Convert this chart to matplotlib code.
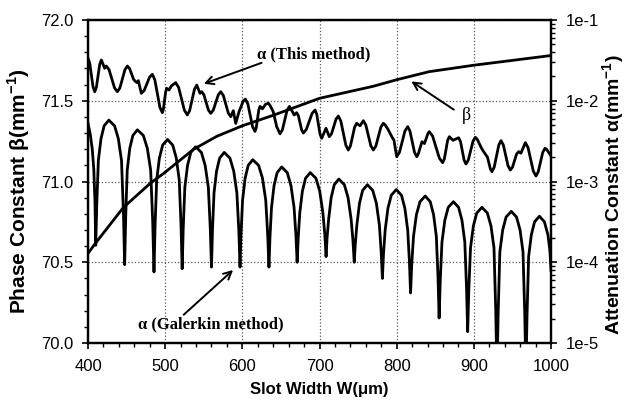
import numpy as np
import matplotlib
matplotlib.use("Agg")
import matplotlib.pyplot as plt
from matplotlib.ticker import MultipleLocator, FormatStrFormatter, LogLocator, NullFormatter

plt.rcParams['font.family'] = ['Liberation Sans', 'DejaVu Sans']
plt.rcParams['mathtext.fontset'] = 'custom'
plt.rcParams['mathtext.rm'] = 'Liberation Sans'
plt.rcParams['mathtext.bf'] = 'Liberation Sans:bold'

# phase constant beta (left axis, mm^-1)
beta_w = [400, 410, 446, 481, 498, 537, 567, 600, 640, 700, 770, 800, 842, 900, 1000]
beta_val = [70.555, 70.62, 70.84, 70.99, 71.05, 71.2, 71.28, 71.345, 71.41, 71.515,
            71.59, 71.63, 71.68, 71.72, 71.78]

# attenuation, this method (log10 of alpha)
this_w = [400, 402.2, 406.5, 408.7, 410.9, 415.1, 417.3, 421.6, 423.7, 427.3, 434.4, 438,
          441.3, 447.8, 451, 453.7, 459.1, 461.8, 463.9, 465.2, 469.1, 472.7, 479.8, 483.4,
          486.6, 493.1, 496.3, 497.7, 500.6, 502, 505, 508, 513.6, 517.4, 524.9, 528.7,
          531.7, 537.9, 540.9, 545.1, 547.3, 550.2, 556.1, 559, 562.3, 568.8, 572, 575.3,
          581.8, 585, 588.3, 591.4, 595.7, 601.3, 604, 607.1, 613.3, 616.4, 618, 621.3,
          622.9, 626, 630, 633.7, 636, 640, 644.5, 648.8, 651.9, 657.9, 661, 667.3, 670.4,
          672.6, 676.9, 679, 682.8, 690.4, 694.2, 696.4, 700.7, 702.8, 708.4, 712.7, 715.6,
          721.5, 724.4, 727.6, 734.1, 737.3, 740, 745.5, 748.2, 752.5, 756.8, 760, 766.5,
          769.7, 773, 779.5, 782.7, 785.5, 788.5, 794, 796.5, 800, 803.6, 810.7, 814.3,
          817.2, 823.1, 826, 827.7, 832.8, 836, 840.7, 842.3, 846.6, 855.3, 859.6, 861.8,
          866, 868.2, 873, 880.3, 882.7, 887.4, 889.8, 892.8, 898.9, 901.9, 904.4, 909.5,
          912, 915.7, 917.7, 921.5, 923.5, 926.4, 932.3, 935.2, 938.2, 944.3, 947.3, 950,
          955.4, 958.1, 961, 966.7, 970.2, 977.1, 980.5, 983.4, 989.3, 992.2, 994.2, 1000]
this_log = [-1.474, -1.534, -1.828, -1.888, -1.831, -1.552, -1.495, -1.598, -1.570, -1.616,
            -1.842, -1.888, -1.842, -1.616, -1.570, -1.598, -1.736, -1.764, -1.776, -1.751,
            -1.908, -1.874, -1.707, -1.673, -1.742, -2.079, -2.148, -2.104, -1.890, -1.846,
            -1.867, -1.817, -1.776, -1.834, -2.118, -2.176, -2.122, -1.859, -1.805, -1.908,
            -1.888, -1.927, -2.117, -2.156, -2.117, -1.927, -1.888, -1.933, -2.152, -2.197,
            -2.123, -2.28, -2.135, -2.00, -1.98, -2.038, -2.322, -2.38, -2.335, -2.115,
            -2.07, -2.10, -2.045, -2.03, -2.06, -2.135, -2.32, -2.41, -2.36, -2.12,
            -2.07, -2.176, -2.148, -2.185, -2.363, -2.40, -2.358, -2.157, -2.115, -2.166,
            -2.414, -2.465, -2.341, -2.445, -2.408, -2.226, -2.189, -2.250, -2.549, -2.61,
            -2.562, -2.327, -2.279, -2.31, -2.247, -2.300, -2.557, -2.61, -2.562, -2.327,
            -2.279, -2.304, -2.35, -2.45, -2.49, -2.693, -2.639, -2.375, -2.321, -2.375,
            -2.639, -2.693, -2.666, -2.507, -2.53, -2.40, -2.383, -2.439, -2.711, -2.767,
            -2.72, -2.492, -2.445, -2.49, -2.458, -2.505, -2.736, -2.783, -2.735, -2.501,
            -2.453, -2.477, -2.58, -2.62, -2.672, -2.70, -2.848, -2.878, -2.822, -2.55,
            -2.494, -2.547, -2.805, -2.858, -2.825, -2.66, -2.63, -2.65, -2.519, -2.579,
            -2.872, -2.932, -2.882, -2.639, -2.589, -2.60, -2.684]

# attenuation, Galerkin method (log10 of alpha)
gal_w = [400, 403, 405.5, 407.5, 409, 410,
         411.4, 413.4, 416.8, 420.9, 427, 434.4, 439.3, 443.4, 445.9, 447.5,
         448.8, 450.8, 454.1, 458.1, 464, 471.7, 476.9, 481.2, 483.8, 485.5,
         486.9, 489, 492.5, 496.7, 503, 509.8, 514.4, 518.2, 520.5, 522,
         523.4, 525.5, 529, 533.2, 539.5, 546.9, 551.8, 555.9, 558.4, 560,
         561.3, 563.3, 566.6, 570.6, 576.5, 583.9, 588.8, 592.9, 595.4, 597,
         598.3, 600.3, 603.6, 607.6, 613.5, 621.1, 626.1, 630.3, 632.8, 634.5,
         635.8, 637.8, 641.1, 645.1, 651, 658.2, 663, 667, 669.4, 671,
         672.4, 674.4, 677.8, 681.9, 688, 695.4, 700.3, 704.4, 706.9, 708.5,
         709.8, 711.8, 715.1, 719.1, 725, 732.2, 737, 741, 743.4, 745,
         746.4, 748.4, 751.8, 755.9, 762, 769, 773.7, 777.6, 779.9, 781.5,
         782.9, 785.1, 788.7, 793, 799.5, 806.2, 810.6, 814.3, 816.5, 818,
         819.5, 821.8, 825.6, 830.2, 837, 843.5, 847.8, 851.4, 853.6, 855,
         856.5, 858.7, 862.4, 866.8, 873.5, 880.2, 884.6, 888.3, 890.5, 892,
         893.5, 895.7, 899.4, 903.8, 910.5, 917.5, 922.2, 926.1, 928.4, 930,
         931.5, 933.7, 937.4, 941.8, 948.5, 955.3, 959.9, 963.7, 966, 967.5,
         968.9, 971, 974.5, 978.7, 985, 991.5, 996, 998.5, 1000]
gal_log = [-2.28, -2.42, -2.60, -2.85, -3.25, -3.79,
           -3.27, -2.74, -2.47, -2.31, -2.24, -2.31, -2.47, -2.74, -3.39, -4.03,
           -3.45, -2.86, -2.59, -2.43, -2.36, -2.43, -2.59, -2.86, -3.49, -4.12,
           -3.55, -2.98, -2.71, -2.55, -2.48, -2.55, -2.71, -2.98, -3.53, -4.08,
           -3.58, -3.07, -2.80, -2.64, -2.57, -2.64, -2.80, -3.07, -3.57, -4.06,
           -3.60, -3.14, -2.87, -2.71, -2.64, -2.71, -2.87, -3.14, -3.60, -4.06,
           -3.65, -3.23, -2.96, -2.80, -2.73, -2.80, -2.96, -3.23, -3.65, -4.06,
           -3.69, -3.32, -3.05, -2.89, -2.82, -2.89, -3.05, -3.32, -3.66, -4.00,
           -3.70, -3.39, -3.12, -2.96, -2.89, -2.96, -3.12, -3.39, -3.66, -3.93,
           -3.70, -3.47, -3.20, -3.04, -2.97, -3.04, -3.20, -3.47, -3.74, -4.00,
           -3.77, -3.54, -3.27, -3.11, -3.04, -3.11, -3.27, -3.54, -3.87, -4.20,
           -3.90, -3.60, -3.33, -3.17, -3.10, -3.17, -3.33, -3.60, -3.99, -4.38,
           -4.03, -3.68, -3.41, -3.25, -3.18, -3.25, -3.41, -3.68, -4.19, -4.69,
           -4.22, -3.75, -3.48, -3.32, -3.25, -3.32, -3.48, -3.75, -4.31, -4.86,
           -4.34, -3.82, -3.55, -3.39, -3.32, -3.39, -3.55, -3.82, -4.61, -5.4,
           -4.64, -3.87, -3.60, -3.44, -3.37, -3.44, -3.60, -3.87, -4.64, -5.4,
           -4.67, -3.93, -3.66, -3.50, -3.43, -3.50, -3.66, -3.85, -4.10]

fig = plt.figure(figsize=(6.26, 4), dpi=100)
ax = fig.add_axes([0.1406, 0.1425, 0.7396, 0.8075])
ax2 = ax.twinx()

ax.plot(beta_w, beta_val, color='black', lw=2, solid_joinstyle='round')
ax2.plot(this_w, 10 ** np.array(this_log), color='black', lw=2, solid_joinstyle='round')
ax2.plot(gal_w, 10 ** np.array(gal_log), color='black', lw=2, solid_joinstyle='round')

ax.set_xlim(400, 1000)
ax.set_ylim(70.0, 72.0)
ax2.set_yscale('log')
ax2.set_ylim(1e-5, 1e-1)

ax.xaxis.set_major_locator(MultipleLocator(100))
ax.xaxis.set_minor_locator(MultipleLocator(20))
ax.yaxis.set_major_locator(MultipleLocator(0.5))
ax.yaxis.set_minor_locator(MultipleLocator(0.1))
ax.yaxis.set_major_formatter(FormatStrFormatter('%.1f'))
ax2.yaxis.set_minor_locator(LogLocator(base=10, subs=np.arange(2, 10), numticks=10))
ax2.yaxis.set_minor_formatter(NullFormatter())
ax2.set_yticks([1e-5, 1e-4, 1e-3, 1e-2, 1e-1])
ax2.set_yticklabels(['1e-5', '1e-4', '1e-3', '1e-2', '1e-1'])

# ticks point outward
ax.tick_params(axis='both', which='both', direction='out', top=False, right=False, labelsize=12)
ax.tick_params(axis='both', which='major', length=4.5, width=1.2)
ax.tick_params(axis='both', which='minor', length=3, width=1)
ax.tick_params(axis='x', pad=7)
ax.tick_params(axis='y', pad=6)
ax2.tick_params(axis='y', which='both', direction='out', labelsize=12, pad=6)
ax2.tick_params(axis='y', which='major', length=4.5, width=1.2)
ax2.tick_params(axis='y', which='minor', length=3, width=1)

ax.grid(True, which='major', color='0.35', linestyle=':', lw=0.9)
for a in (ax, ax2):
    for s in a.spines.values():
        s.set_linewidth(1.6)

ax.set_xlabel('Slot Width W(\u03bcm)', fontsize=12, fontweight='bold')
ax.xaxis.set_label_coords(0.5, -0.12)
ax.set_ylabel('Phase Constant \u03b2(mm$^{\\mathbf{-1}}$)', fontsize=15, fontweight='bold')
ax.yaxis.set_label_coords(-0.122, 0.47)
ax2.set_ylabel('Attenuation Constant \u03b1(mm$^{\\mathbf{-1}}$)', fontsize=14,
               fontweight='bold')
ax2.yaxis.set_label_coords(1.106, 0.46)

serif = dict(family=['Liberation Serif', 'DejaVu Serif'], fontweight='bold', fontsize=12)
arrow = dict(arrowstyle='->', color='black', lw=1.4, shrinkA=0, shrinkB=0,
             mutation_scale=14)

# annotations
ax.annotate('', xy=(550, 71.605), xytext=(625, 71.735), arrowprops=arrow)
ax.text(619, 71.785, '\u03b1 (This method)', ha='left', va='center', **serif)

ax.annotate('', xy=(819, 71.62), xytext=(874, 71.445), arrowprops=arrow)
ax.text(884, 71.41, '\u03b2', ha='left', va='center',
        family=['Liberation Serif', 'DejaVu Serif'], fontsize=13)

ax.annotate('', xy=(588, 70.452), xytext=(524, 70.175), arrowprops=arrow)
ax.text(465, 70.118, '\u03b1 (Galerkin method)', ha='left', va='center', **serif)

fig.savefig('out.png', dpi=100)
